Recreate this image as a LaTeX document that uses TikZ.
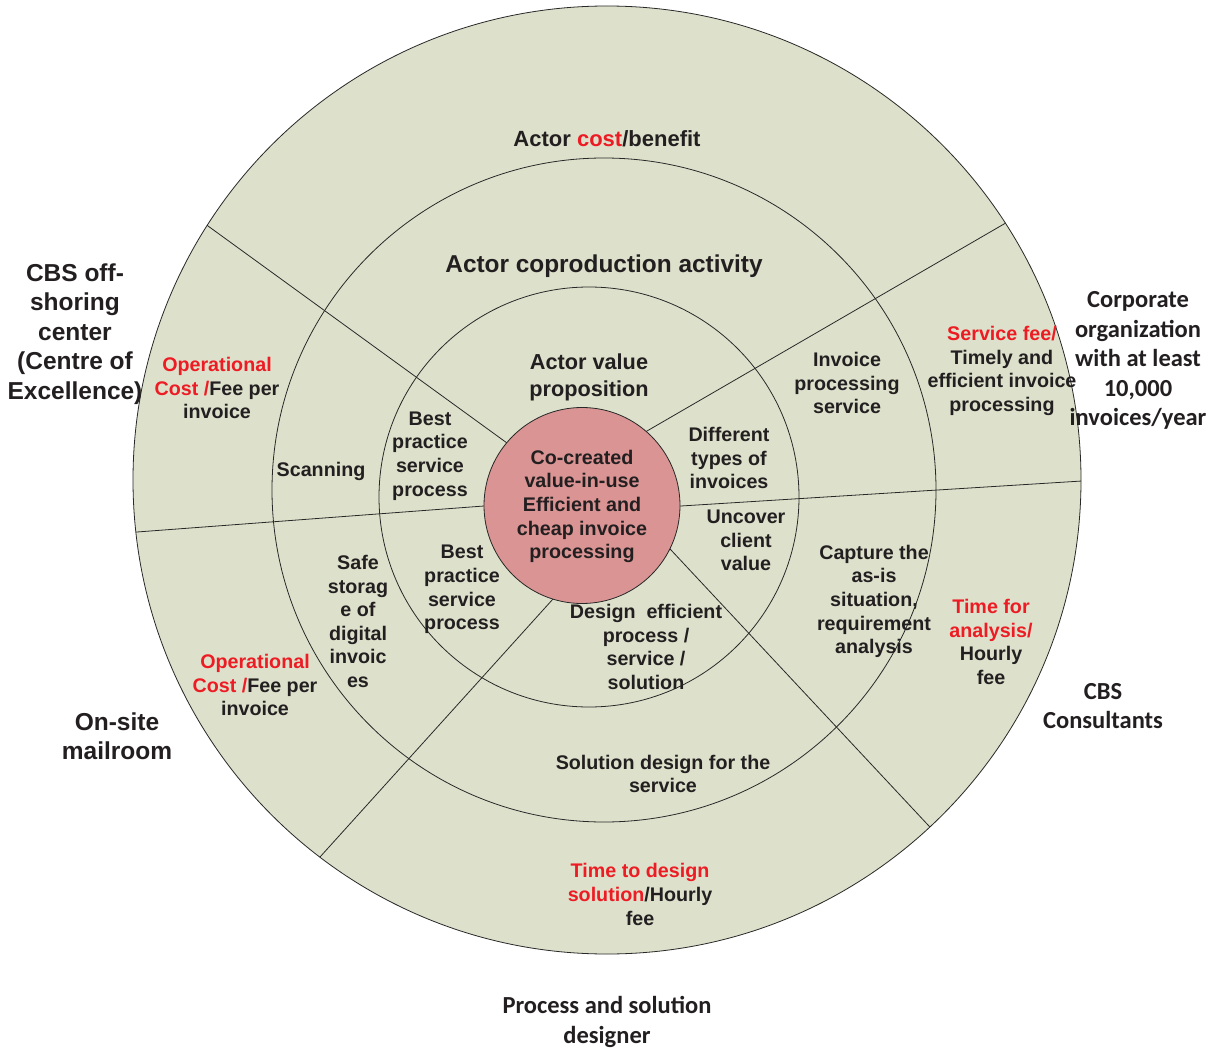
\documentclass[tikz,border=0pt]{standalone}
\usepackage{fontspec}
\setmainfont{Liberation Sans}
\newfontfamily\calfont{Carlito}
\usetikzlibrary{calc}
\definecolor{ringfill}{RGB}{221,225,203}
\definecolor{corefill}{RGB}{217,148,147}
\definecolor{ink}{RGB}{35,31,32}
\definecolor{costred}{RGB}{237,28,36}
\definecolor{edge}{RGB}{40,40,40}
\newcommand{\rd}[1]{\textcolor{costred}{#1}}

\begin{document}
\begin{tikzpicture}[x=1pt,y=-1pt,
  ringline/.style={draw=edge, line width=0.8pt},
  divider/.style={draw=edge, line width=0.8pt, shorten <=-10pt, shorten >=-10pt},
  lbl/.style={font=\fontsize{19.7}{23.6}\selectfont\bfseries, text=ink, align=center, inner sep=0pt, yshift=-1.5pt},
  ringtitle/.style={font=\fontsize{22}{27}\selectfont\bfseries, text=ink, align=center, inner sep=0pt, yshift=-1pt},
  actorA/.style={font=\fontsize{24.5}{29.5}\selectfont\bfseries, text=ink, align=center, inner sep=0pt, yshift=-1.5pt},
  actorB/.style={font=\calfont\fontsize{24.5}{29.5}\selectfont\bfseries, text=ink, align=center, inner sep=0pt, yshift=-1.5pt}
]
\useasboundingbox (0,0) rectangle (1216,1051);
\fill[white] (0,0) rectangle (1216,1051);

% ring centres
\coordinate (c0) at (607,480);
\coordinate (c1) at (604,490);
\coordinate (c2) at (589,497);
\coordinate (c3) at (582,505.5);

% outer disc
\fill[ringfill] (c0) circle [radius=474pt];

% sector dividers, clipped to the outer disc
\begin{scope}
  \clip (c0) circle [radius=474pt];
  \draw[divider] (208,226) -- (507,443);
  \draw[divider] (1004,224) -- (647,431);
  \draw[divider] (1082,481) -- (681,506);
  \draw[divider] (137,532) -- (484,506);
  \draw[divider] (928,825) -- (671,550);
  \draw[divider] (320,857) -- (553,599);
\end{scope}

% ring outlines
\draw[ringline] (c0) circle [radius=474pt];
\draw[ringline] (c1) circle [radius=332pt];
\draw[ringline] (c2) circle [radius=210pt];
\draw[ringline, fill=corefill] (c3) circle [radius=98pt];

% ring titles
\node[ringtitle] (costben) at (607,138) {Actor \rd{cost}/benefit};
\node[ringtitle, font=\fontsize{24.4}{29}\selectfont\bfseries] (coprod) at (604,265) {Actor coproduction activity};
\node[ringtitle, font=\fontsize{21.7}{27}\selectfont\bfseries] (valprop) at (589,376.5) {Actor value\\proposition};

% core
\node[lbl] (core) at (582,505) {Co-created\\value-in-use\\Efficient and\\cheap invoice\\processing};

% upper-left sector
\node[lbl] (opcostA) at (217,386.5) {\rd{Operational}\\\rd{Cost /}Fee per\\invoice};
\node[lbl] (scan) at (321,470) {Scanning};
\node[lbl] (bestA) at (430,454.5) {Best\\practice\\service\\process};

% upper-right sector
\node[lbl] (diff) at (729,456.5) {Different\\types of\\invoices};
\node[lbl] (invproc) at (847,381.5) {Invoice\\processing\\service};
\node[lbl] (servfee) at (1002,369.5) {\rd{Service fee/}\\Timely and\\efficient invoice\\processing};

% right sector
\node[lbl] (uncover) at (746,539) {Uncover\\client\\value};
\node[lbl] (capture) at (874,600) {Capture the\\as-is\\situation,\\requirement\\analysis};
\node[lbl] (tanalysis) at (991,640.5) {\rd{Time for}\\\rd{analysis/}\\Hourly\\fee};

% lower-left sector
\node[lbl] (bestB) at (462,588) {Best\\practice\\service\\process};
\node[lbl] (safe) at (358,620) {Safe\\storag\\e of\\digital\\invoic\\es};
\node[lbl] (opcostB) at (255,683.5) {\rd{Operational}\\\rd{Cost /}Fee per\\invoice};

% bottom sector
\node[lbl] (design) at (646,645.5) {Design\ \ efficient\\process /\\service /\\solution};
\node[lbl] (soldes) at (663,772.5) {Solution design for the\\service};
\node[lbl] (tdesign) at (640,893) {\rd{Time to design}\\\rd{solution}/Hourly\\fee};

% actors around the circle
\node[actorA] (cbsoff) at (75,332.5) {CBS off-\\shoring\\center\\(Centre of\\Excellence)};
\node[actorA] (onsite) at (117,734.5) {On-site\\mailroom};
\node[actorB] (corp) at (1138,359) {Corporate\\organization\\with at least\\10,000\\invoices/year};
\node[actorB] (consult) at (1103,704.5) {CBS\\Consultants};
\node[actorB] (designer) at (607,1020.5) {Process and solution\\designer};
\end{tikzpicture}
\end{document}
